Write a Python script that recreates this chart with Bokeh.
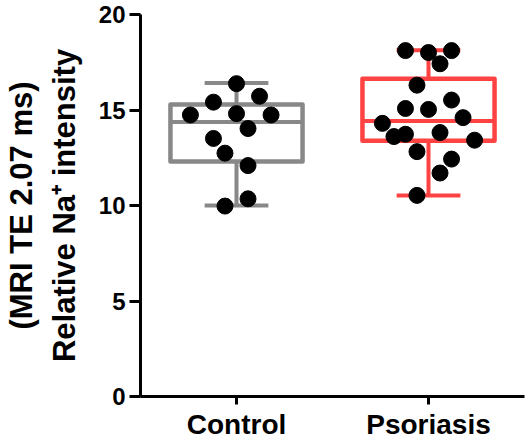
from bokeh.plotting import figure
from bokeh.models import ColumnDataSource, FactorRange, Range1d, FixedTicker
from bokeh.embed import file_html
from bokeh.resources import INLINE

groups = ["Control", "Psoriasis"]
colors = ["#888888", "#FF4242"]

control_values = [16.38, 15.41, 15.72, 14.74, 14.81, 14.74, 14.03, 13.51, 12.74, 12.09, 10.35, 9.97]
control_jitter = [0, -2, 2, -4, 0, 3, 1, -2, -1, 1, 1, -1]
psoriasis_values = [18.11, 18.01, 18.11, 17.42, 16.30, 15.52, 15.08, 15.03, 14.60, 14.30,
                    13.61, 13.73, 13.82, 13.42, 12.82, 12.43, 11.70, 10.53]
psoriasis_jitter = [-2, 0, 2, 1, -1, 2, -2, 0, 3, -4, -3, -2, 1, 4, -1, 2, 1, -1]

whisker_low = [10.0, 10.53]
q1 = [12.30, 13.39]
median = [14.37, 14.42]
q3 = [15.29, 16.64]
whisker_high = [16.42, 18.13]

y_ticks = [0, 5, 10, 15, 20]

JIT = 0.06
BOX_HALF = 0.344
CAP_HALF = 0.166

p = figure(width=525, height=445, x_range=FactorRange(*groups, range_padding=0),
           y_range=Range1d(0, 20), output_backend="svg", toolbar_location=None,
           min_border_left=140, min_border_right=1, min_border_top=14, min_border_bottom=49)
p.outline_line_color = None
p.grid.visible = False
p.background_fill_color = "white"

box_src = ColumnDataSource(dict(
    x=groups, q1=q1, q3=q3, color=colors,
    mx0=[(g, -BOX_HALF) for g in groups], mx1=[(g, BOX_HALF) for g in groups], med=median,
    cx0=[(g, -CAP_HALF) for g in groups], cx1=[(g, CAP_HALF) for g in groups],
    lo=whisker_low, hi=whisker_high,
))

# whiskers
p.segment(x0="x", y0="q3", x1="x", y1="hi", source=box_src, line_color="color", line_width=4)
p.segment(x0="x", y0="q1", x1="x", y1="lo", source=box_src, line_color="color", line_width=4)
p.segment(x0="cx0", y0="hi", x1="cx1", y1="hi", source=box_src, line_color="color", line_width=4)
p.segment(x0="cx0", y0="lo", x1="cx1", y1="lo", source=box_src, line_color="color", line_width=4)
# box
p.vbar(x="x", top="q3", bottom="q1", width=2 * BOX_HALF, source=box_src, fill_color="white",
       line_color="color", line_width=4.5, line_join="round")
p.segment(x0="mx0", y0="med", x1="mx1", y1="med", source=box_src, line_color="color", line_width=4)

# points
for g, vals, jit in [("Control", control_values, control_jitter),
                     ("Psoriasis", psoriasis_values, psoriasis_jitter)]:
    src = ColumnDataSource(dict(x=[(g, j * JIT) for j in jit], y=vals))
    p.scatter(x="x", y="y", source=src, size=16, fill_color="black", line_color="black")

FONT = "Liberation Sans"

p.yaxis.ticker = FixedTicker(ticks=y_ticks)
p.yaxis.minor_tick_line_color = None
p.yaxis.major_tick_out = 11
p.yaxis.major_tick_in = 0
p.yaxis.axis_line_width = 3
p.yaxis.major_tick_line_width = 3
p.yaxis.major_label_text_font = FONT
p.yaxis.major_label_text_font_style = "bold"
p.yaxis.major_label_text_font_size = "24px"
p.yaxis.major_label_text_color = "black"
p.yaxis.major_label_standoff = 4
p.yaxis.axis_label = "(MRI TE 2.07 ms)\nRelative Na\u207a intensity"
p.yaxis.axis_label_text_font = FONT
p.yaxis.axis_label_text_font_style = "bold"
p.yaxis.axis_label_text_font_size = "31px"
p.yaxis.axis_label_text_line_height = 1.22
p.yaxis.axis_label_text_color = "black"
p.yaxis.axis_label_standoff = 14

p.xaxis.major_tick_out = 8
p.xaxis.major_tick_in = 0
p.xaxis.axis_line_width = 3
p.xaxis.major_tick_line_width = 3
p.xaxis.major_label_text_font = FONT
p.xaxis.major_label_text_font_style = "bold"
p.xaxis.major_label_text_font_size = "28px"
p.xaxis.major_label_text_color = "black"
p.xaxis.major_label_standoff = 4

open("out.html", "w").write(file_html(p, INLINE))
